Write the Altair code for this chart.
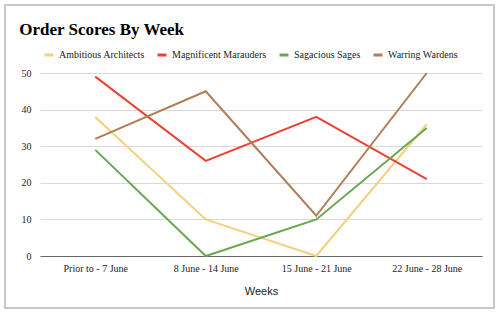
import altair as alt
import pandas as pd

weeks = ["Prior to - 7 June", "8 June - 14 June", "15 June - 21 June", "22 June - 28 June"]
teams = ["Ambitious Architects", "Magnificent Marauders", "Sagacious Sages", "Warring Wardens"]
colors = ["#f2d27f", "#ea4335", "#6aa84f", "#b07d55"]

ambitious = [38, 10, 0, 36]
magnificent = [49, 26, 38, 21]
sagacious = [29, 0, 10, 35]
warring = [32, 45, 11, 50]

rows = []
for team, vals in zip(teams, [ambitious, magnificent, sagacious, warring]):
    for w, v in zip(weeks, vals):
        rows.append({"Week": w, "Team": team, "Score": v})
df = pd.DataFrame(rows)

serif = "Liberation Serif"
sans = "Liberation Sans"

lines = alt.Chart(df).mark_line(strokeWidth=2).encode(
    x=alt.X("Week:N", sort=weeks, scale=alt.Scale(paddingOuter=0.5),
            axis=alt.Axis(title="Weeks", labelAngle=0, titleFont=sans, titleFontSize=11,
                          titleFontWeight="normal", titleColor="#222", titlePadding=12,
                          domainColor="#666", domainWidth=1, ticks=False, labelPadding=7)),
    y=alt.Y("Score:Q", scale=alt.Scale(domain=[0, 50]),
            axis=alt.Axis(title=None, values=[0, 10, 20, 30, 40, 50], domain=False,
                          ticks=False, labelPadding=9, gridColor="#d9d9d9", gridWidth=1)),
    color=alt.Color("Team:N", sort=teams, scale=alt.Scale(domain=teams, range=colors),
                    legend=alt.Legend(title=None, orient="none", direction="horizontal",
                                      legendX=3, legendY=-24, symbolType="stroke",
                                      symbolStrokeWidth=3, symbolSize=80,
                                      columnPadding=6, labelOffset=4)),
)

# light gray frame around the chart card
frame = alt.Chart(df).mark_rect(fill=None, stroke="#c8c8c8", strokeWidth=1.5, clip=False).encode(
    x=alt.value(-35), x2=alt.value(454), y=alt.value(-68), y2=alt.value(235)
)

chart = alt.layer(frame, lines).properties(
    width=442, height=183,
    padding={"left": 40, "top": 73, "right": 18, "bottom": 58},
    autosize=alt.AutoSizeParams(type="none"),
    title=alt.TitleParams("Order Scores By Week", anchor="start", font=serif, fontSize=17,
                          fontWeight="bold", color="#000", dx=15, offset=-35),
    background="white",
).configure(font=serif).configure_view(stroke=None).configure_axis(
    labelFont=serif, labelFontSize=10, labelColor="#222"
).configure_legend(
    labelFont=serif, labelFontSize=10, labelColor="#222"
)

chart.save("out.html", embed_options={"renderer": "svg", "actions": False})
